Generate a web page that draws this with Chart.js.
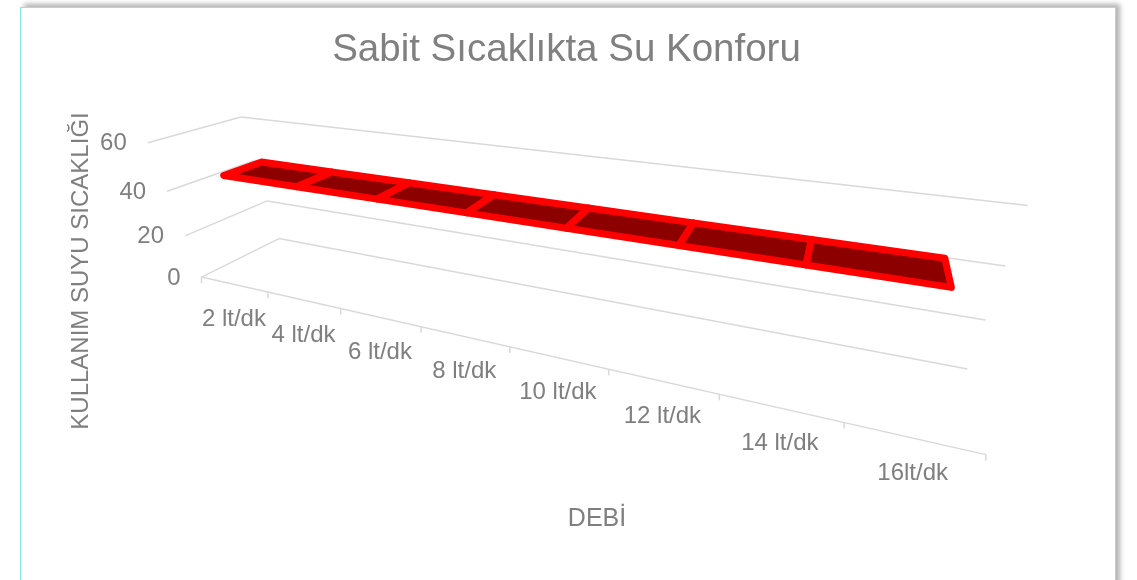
<!DOCTYPE html>
<html lang="tr">
<head>
<meta charset="utf-8">
<title>Sabit Sıcaklıkta Su Konforu</title>
<script src="https://cdn.jsdelivr.net/npm/chart.js@4.4.0/dist/chart.umd.min.js"></script>
<style>
    html, body { margin: 0; padding: 0; width: 1137px; height: 580px; overflow: hidden; background: #ffffff; }
    .frame {
        position: absolute; left: 20px; top: 7px; width: 1094px; height: 600px;
        background: #ffffff; border: 1px solid #7ff0de;
        box-shadow: 4px -3px 5px rgba(0, 0, 0, 0.3);
    }
    .chart-box { position: absolute; left: 0; top: 0; width: 1137px; height: 580px; }
</style>
</head>
<body>
<div class="frame"></div>
<div class="chart-box"><canvas id="comfortChart"></canvas></div>
<script>
// Chart data
const categories = ['2 lt/dk', '4 lt/dk', '6 lt/dk', '8 lt/dk', '10 lt/dk', '12 lt/dk', '14 lt/dk', '16lt/dk'];
const waterTemp = [45, 45, 45, 45, 45, 45, 45, 45];
const valueTicks = [0, 20, 40, 60];

// Where the corners of the 3D box land on the page (X, Y, Z in 0..1 -> pixel)
const boxCorners = [
    [0, 0, 0, 202, 277], [0, 1 / 3, 0, 185, 236], [0, 2 / 3, 0, 167, 191], [0, 1, 0, 148, 142],
    [0, 0, 1, 279, 238], [0, 1 / 3, 1, 267, 202], [0, 1, 1, 241, 117],
    [1, 0, 1, 968, 368], [1, 1 / 3, 1, 985, 320], [1, 2 / 3, 1, 1005, 266], [1, 1, 1, 1028, 206],
    [1, 0, 0, 986, 455],
    [1 / 8, 0, 0, 267, 292], [2 / 8, 0, 0, 341, 309], [3 / 8, 0, 0, 422, 327], [4 / 8, 0, 0, 510, 347],
    [5 / 8, 0, 0, 608, 369], [6 / 8, 0, 0, 719, 394], [7 / 8, 0, 0, 844, 423]
];

const ribbonFront = 0.28;
const ribbonBack = 0.72;
const textColor = '#7f7f7f';
const gridColor = '#d9d9d9';
const fontFamily = "'Liberation Sans', Arial, sans-serif";

// Least squares fit of a 3x4 projection matrix (last entry fixed to 1)
function solveCamera(points) {
    const n = 11;
    const ata = Array.from({ length: n }, () => new Array(n).fill(0));
    const atb = new Array(n).fill(0);
    points.forEach(([X, Y, Z, u, v]) => {
        const rows = [
            [[X, Y, Z, 1, 0, 0, 0, 0, -u * X, -u * Y, -u * Z], u],
            [[0, 0, 0, 0, X, Y, Z, 1, -v * X, -v * Y, -v * Z], v]
        ];
        rows.forEach(([r, b]) => {
            for (let i = 0; i < n; i++) {
                atb[i] += r[i] * b;
                for (let j = 0; j < n; j++) ata[i][j] += r[i] * r[j];
            }
        });
    });
    for (let c = 0; c < n; c++) {
        let piv = c;
        for (let r = c + 1; r < n; r++) {
            if (Math.abs(ata[r][c]) > Math.abs(ata[piv][c])) piv = r;
        }
        [ata[c], ata[piv]] = [ata[piv], ata[c]];
        [atb[c], atb[piv]] = [atb[piv], atb[c]];
        for (let r = 0; r < n; r++) {
            if (r === c) continue;
            const f = ata[r][c] / ata[c][c];
            for (let k = c; k < n; k++) ata[r][k] -= f * ata[c][k];
            atb[r] -= f * atb[c];
        }
    }
    return atb.map((b, i) => b / ata[i][i]);
}

const camera = solveCamera(boxCorners);

function project(X, Y, Z) {
    const p = camera;
    const w = p[8] * X + p[9] * Y + p[10] * Z + 1;
    return {
        x: (p[0] * X + p[1] * Y + p[2] * Z + p[3]) / w,
        y: (p[4] * X + p[5] * Y + p[6] * Z + p[7]) / w
    };
}

function line(ctx, a, b) {
    ctx.beginPath();
    ctx.moveTo(a.x, a.y);
    ctx.lineTo(b.x, b.y);
    ctx.stroke();
}

// Turns chart pixels (from the scales) into 0..1 box coordinates
function toBox(chart, px, py) {
    const area = chart.chartArea;
    return {
        X: (px - area.left) / (area.right - area.left),
        Y: (area.bottom - py) / (area.bottom - area.top)
    };
}

const perspectivePlugin = {
    id: 'perspective',
    beforeDatasetsDraw(chart) {
        const ctx = chart.ctx;
        const xScale = chart.scales.x;
        const yScale = chart.scales.y;
        const ticks = yScale.ticks.length ? yScale.ticks.map(t => t.value) : valueTicks;

        ctx.save();
        ctx.strokeStyle = gridColor;
        ctx.lineWidth = 1.5;

        // Side and back wall gridlines
        ticks.forEach(v => {
            const Y = toBox(chart, 0, yScale.getPixelForValue(v)).Y;
            line(ctx, project(0, Y, 0), project(0, Y, 1));
            line(ctx, project(0, Y, 1), project(1, Y, 1));
        });

        // Category axis with its tick marks
        line(ctx, project(0, 0, 0), project(1, 0, 0));
        for (let k = 0; k <= categories.length; k++) {
            const X = toBox(chart, xScale.getPixelForValue(k - 0.5), 0).X;
            const p = project(X, 0, 0);
            line(ctx, p, { x: p.x, y: p.y + 6 });
        }

        // Value labels
        ctx.fillStyle = textColor;
        ctx.font = '24px ' + fontFamily;
        ctx.textAlign = 'right';
        ctx.textBaseline = 'middle';
        ticks.forEach(v => {
            const Y = toBox(chart, 0, yScale.getPixelForValue(v)).Y;
            const p = project(0, Y, 0);
            ctx.fillText(String(v), p.x - 21, p.y + 1);
        });

        // Category labels
        ctx.textAlign = 'center';
        categories.forEach((c, i) => {
            const X = toBox(chart, xScale.getPixelForValue(i), 0).X;
            const p = project(X, 0, 0);
            ctx.fillText(c, p.x, p.y + 35);
        });

        // Axis titles
        ctx.font = '25px ' + fontFamily;
        ctx.fillText('DEBİ', 597, 519);
        ctx.font = '24px ' + fontFamily;
        ctx.translate(81, 271);
        ctx.rotate(-Math.PI / 2);
        ctx.fillText('KULLANIM SUYU SICAKLIĞI', 0, 0);
        ctx.restore();
    },
    beforeDatasetDraw() {
        // the ribbon is drawn by afterDatasetsDraw instead
        return false;
    },
    afterDatasetsDraw(chart) {
        const ctx = chart.ctx;
        const pts = chart.getDatasetMeta(0).data.map(el => toBox(chart, el.x, el.y));

        ctx.save();
        ctx.fillStyle = '#8c0000';
        ctx.strokeStyle = '#ff0000';
        ctx.lineWidth = 7;
        ctx.lineJoin = 'round';
        for (let i = 0; i < pts.length - 1; i++) {
            const a = pts[i];
            const b = pts[i + 1];
            const quad = [
                project(a.X, a.Y, ribbonFront), project(b.X, b.Y, ribbonFront),
                project(b.X, b.Y, ribbonBack), project(a.X, a.Y, ribbonBack)
            ];
            ctx.beginPath();
            quad.forEach((q, j) => j ? ctx.lineTo(q.x, q.y) : ctx.moveTo(q.x, q.y));
            ctx.closePath();
            ctx.fill();
            ctx.stroke();
        }
        ctx.restore();
    }
};

document.addEventListener('DOMContentLoaded', function() {
    const canvas = document.getElementById('comfortChart');
    new Chart(canvas, {
        type: 'line',
        data: {
            labels: categories,
            datasets: [{
                label: 'Kullanım suyu sıcaklığı',
                data: waterTemp,
                borderColor: '#ff0000',
                backgroundColor: '#8c0000',
                pointRadius: 0
            }]
        },
        options: {
            responsive: true,
            maintainAspectRatio: false,
            animation: false,
            layout: { padding: { left: 128, right: 132, top: 0, bottom: 130 } },
            scales: {
                x: { type: 'category', offset: true, display: false },
                y: { min: 0, max: 60, ticks: { stepSize: 20 }, display: false }
            },
            plugins: {
                legend: { display: false },
                tooltip: { enabled: false },
                title: {
                    display: true,
                    text: 'Sabit Sıcaklıkta Su Konforu',
                    color: '#808080',
                    font: { family: fontFamily, size: 38.5, weight: 'normal' },
                    padding: { top: 27, bottom: 60 }
                }
            }
        },
        plugins: [perspectivePlugin]
    });
});
</script>
</body>
</html>
